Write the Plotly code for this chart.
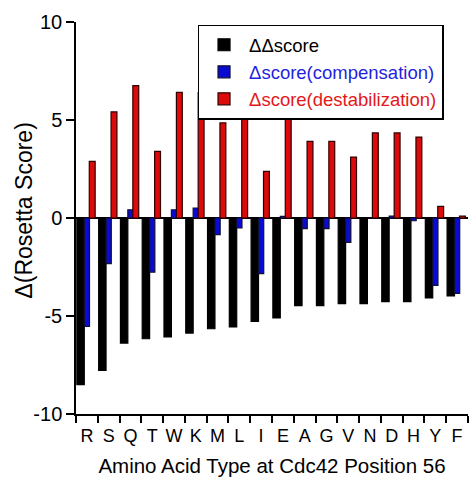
import plotly.graph_objects as go

# Amino acid substitutions at Cdc42 position 56
residues = ["R", "S", "Q", "T", "W", "K", "M", "L", "I",
            "E", "A", "G", "V", "N", "D", "H", "Y", "F"]

dd_score = [-8.50, -7.78, -6.38, -6.16, -6.07, -5.87, -5.65, -5.56, -5.27,
            -5.10, -4.47, -4.47, -4.37, -4.37, -4.27, -4.27, -4.08, -3.98]
compensation = [-5.53, -2.33, 0.42, -2.76, 0.42, 0.51, -0.85, -0.51, -2.84,
                0.08, -0.54, -0.54, -1.24, 0.00, 0.10, -0.14, -3.44, -3.85]
destabilization = [2.89, 5.41, 6.75, 3.40, 6.41, 6.40, 4.85, 5.05, 2.38,
                   5.10, 3.91, 3.91, 3.11, 4.34, 4.34, 4.13, 0.59, 0.10]

y_ticks = [-10, -5, 0, 5, 10]
y_tick_text = ["-10", "-5", "0", "5", "10"]

FONT = "Liberation Sans, Arial, Helvetica, sans-serif"
BLACK = "#000000"
BLUE = "#0a0ad2"
RED = "#dc0a0a"

fig = go.Figure()
series = [
    ("ΔΔscore", dd_score, BLACK, BLACK, -0.46, 0.34),
    ("<span style='color:#1f1fe0'>Δscore(compensation)</span>", compensation, BLUE, "#101030", -0.12, 0.24),
    ("<span style='color:#e41818'>Δscore(destabilization)</span>", destabilization, RED, "#300000", 0.11, 0.27),
]
for name, vals, fill, edge, off, wid in series:
    fig.add_trace(go.Bar(
        x=residues, y=vals, name=name,
        marker=dict(color=fill, line=dict(color=edge, width=1.2)),
        offset=off, width=wid,
    ))

fig.update_layout(
    width=469, height=485,
    margin=dict(l=76, r=1, t=22, b=71),
    paper_bgcolor="white", plot_bgcolor="white",
    barmode="overlay",
    font=dict(family=FONT, color="black"),
    showlegend=True,
    legend=dict(
        x=0.31, y=0.993, xanchor="left", yanchor="top",
        bgcolor="white", bordercolor="black", borderwidth=1.5,
        font=dict(family=FONT, size=18.5, color="black"),
        itemwidth=40, tracegroupgap=0,
    ),
    annotations=[dict(
        text="Δ(Rosetta Score)", textangle=-90,
        xref="paper", yref="paper", x=-0.135, y=0.519,
        xanchor="center", yanchor="middle", showarrow=False,
        font=dict(family=FONT, size=23, color="black"),
    )],
)

fig.update_xaxes(
    type="category", range=[-0.5, 17.5],
    tickmode="linear", dtick=1, tickangle=0,
    showline=True, linecolor="black", linewidth=1.5,
    ticks="outside", ticklen=7, tickwidth=1.5, tickcolor="black",
    tickson="boundaries", ticklabelstandoff=5,
    tickfont=dict(family=FONT, size=18),
    showgrid=False, zeroline=False,
    title=dict(text="Amino Acid Type at Cdc42 Position 56",
               font=dict(family=FONT, size=20.5), standoff=13),
)
fig.update_yaxes(
    range=[-10, 10],
    tickvals=y_ticks, ticktext=y_tick_text,
    showline=True, linecolor="black", linewidth=1.5,
    ticks="outside", ticklen=8, tickwidth=1.5, tickcolor="black",
    tickfont=dict(family=FONT, size=20),
    showgrid=False,
    zeroline=True, zerolinecolor="black", zerolinewidth=2,
)

fig.write_html("out.html")
